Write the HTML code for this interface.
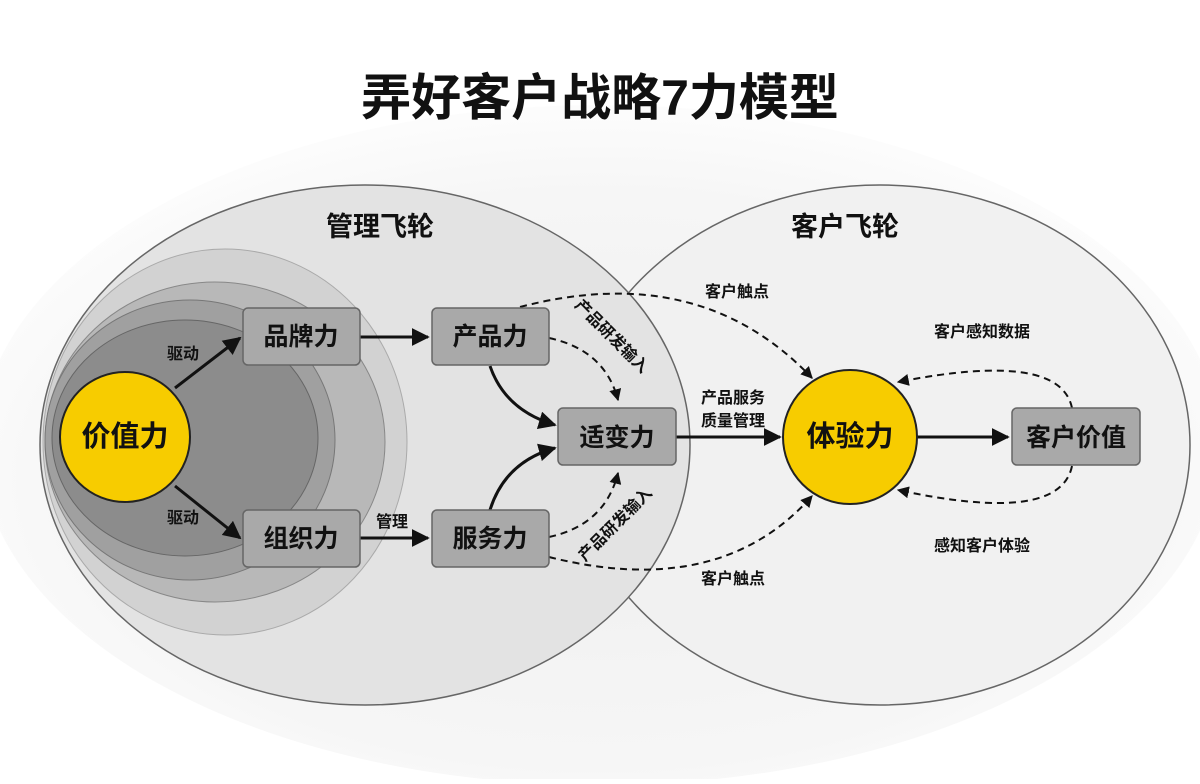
<!DOCTYPE html>
<html><head><meta charset="utf-8"><style>
body{margin:0;background:#fff;}
svg text{font-family:"Liberation Sans","Noto Sans CJK SC",sans-serif;font-weight:bold;fill:#111;}
</style></head><body>
<svg width="1200" height="779" viewBox="0 0 1200 779" xmlns="http://www.w3.org/2000/svg">
<defs>
<marker id="a" viewBox="0 0 10 10" refX="9" refY="5" markerWidth="6" markerHeight="6" orient="auto"><path d="M0,0 L10,5 L0,10 z" fill="#111"/></marker>
<radialGradient id="bg" cx="50%" cy="55%" r="60%"><stop offset="0" stop-color="#efefef"/><stop offset="0.7" stop-color="#f6f6f6"/><stop offset="1" stop-color="#ffffff"/></radialGradient>
</defs>
<rect width="1200" height="779" fill="#fff"/>
<ellipse cx="600" cy="445" rx="620" ry="340" fill="url(#bg)"/>
<text x="600" y="115" font-size="50" text-anchor="middle">弄好客户战略7力模型</text>
<ellipse cx="880" cy="445" rx="310" ry="260" fill="#f1f1f1" stroke="#666" stroke-width="1.5"/>
<ellipse cx="365" cy="445" rx="325" ry="260" fill="#e3e3e3" stroke="#666" stroke-width="1.5"/>
<ellipse cx="225" cy="442" rx="182" ry="193" fill="#d2d2d2" stroke="#aaa"/>
<ellipse cx="215" cy="442" rx="170" ry="160" fill="#b8b8b8" stroke="#888"/>
<ellipse cx="190" cy="440" rx="145" ry="140" fill="#a0a0a0" stroke="#777"/>
<ellipse cx="185" cy="438" rx="133" ry="118" fill="#8c8c8c" stroke="#666"/>
<text x="380" y="236" font-size="27" text-anchor="middle">管理飞轮</text>
<text x="845" y="236" font-size="27" text-anchor="middle">客户飞轮</text>
<g stroke="#111" stroke-width="3" fill="none" marker-end="url(#a)">
<line x1="175" y1="388" x2="240" y2="338"/>
<line x1="175" y1="486" x2="240" y2="538"/>
<line x1="360" y1="337" x2="428" y2="337"/>
<line x1="360" y1="538" x2="428" y2="538"/>
<path d="M490,366 Q505,410 555,425"/>
<path d="M490,510 Q505,462 555,448"/>
<line x1="676" y1="437" x2="780" y2="437"/>
<line x1="917" y1="437" x2="1008" y2="437"/>
</g>
<g stroke="#111" stroke-width="2" stroke-dasharray="7,5" fill="none" marker-end="url(#a)">
<path d="M549,338 Q605,350 618,400"/>
<path d="M549,537 Q605,525 618,473"/>
<path d="M520,307 Q700,260 812,378"/>
<path d="M549,557 Q720,600 812,496"/>
<path d="M1072,408 Q1060,350 898,382"/>
<path d="M1072,466 Q1060,525 898,490"/>
</g>
<circle cx="125" cy="437" r="65" fill="#f7cc00" stroke="#222" stroke-width="2"/>
<circle cx="850" cy="437" r="67" fill="#f7cc00" stroke="#222" stroke-width="2"/>
<g fill="#a9a9a9" stroke="#666" stroke-width="1.5">
<rect x="243" y="308" width="117" height="57" rx="5"/>
<rect x="432" y="308" width="117" height="57" rx="5"/>
<rect x="243" y="510" width="117" height="57" rx="5"/>
<rect x="432" y="510" width="117" height="57" rx="5"/>
<rect x="558" y="408" width="118" height="57" rx="5"/>
<rect x="1012" y="408" width="128" height="57" rx="5"/>
</g>
<g font-size="25" text-anchor="middle">
<text x="125" y="446" font-size="29">价值力</text>
<text x="850" y="446" font-size="29">体验力</text>
<text x="301" y="345">品牌力</text>
<text x="490" y="345">产品力</text>
<text x="301" y="547">组织力</text>
<text x="490" y="547">服务力</text>
<text x="617" y="446">适变力</text>
<text x="1076" y="446">客户价值</text>
</g>
<g font-size="16" text-anchor="middle">
<text x="183" y="359">驱动</text>
<text x="183" y="523">驱动</text>
<text x="392" y="527">管理</text>
<text x="737" y="297">客户触点</text>
<text x="733" y="584">客户触点</text>
<text x="733" y="403">产品服务</text>
<text x="733" y="426">质量管理</text>
<text x="982" y="337">客户感知数据</text>
<text x="982" y="551">感知客户体验</text>
<text transform="translate(608,340) rotate(45)">产品研发输入</text>
<text transform="translate(619,528) rotate(-45)">产品研发输入</text>
</g>
</svg>
</body></html>
